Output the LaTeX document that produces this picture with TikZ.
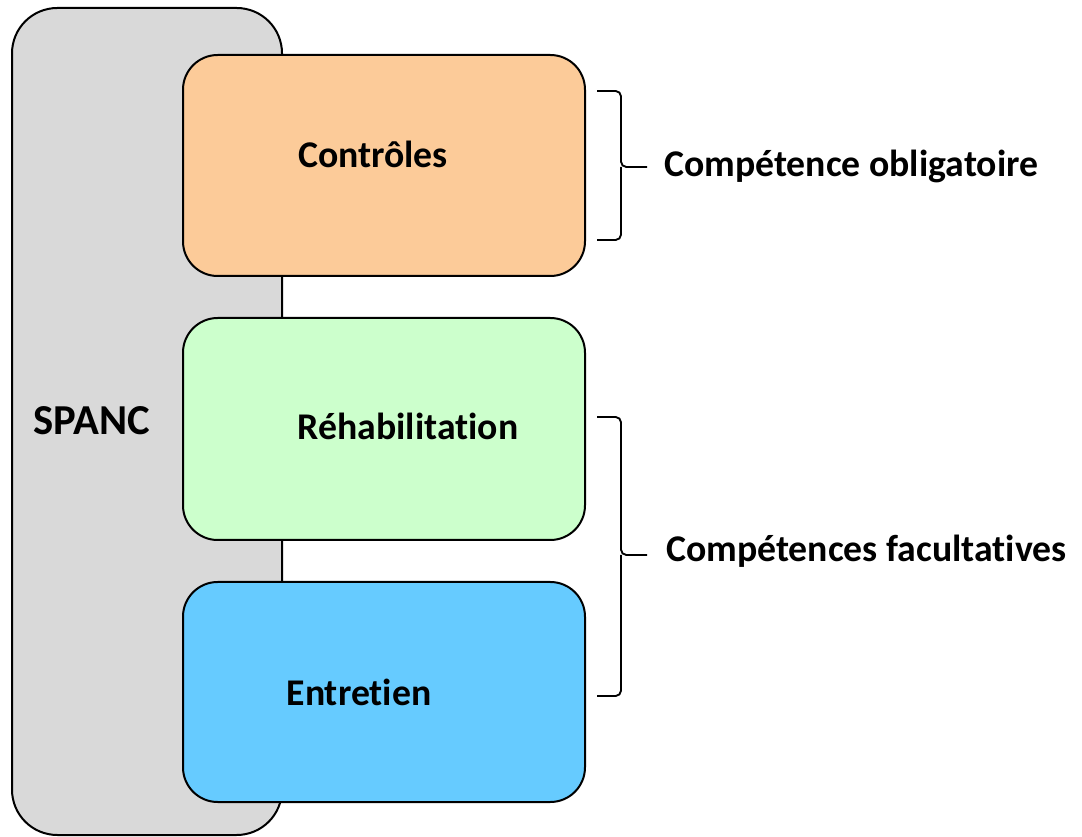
\documentclass[tikz,border=0pt]{standalone}
\usepackage{fontspec}
\setmainfont{Carlito}[Ligatures=NoCommon]
\definecolor{boxgray}{HTML}{D9D9D9}
\definecolor{boxorange}{HTML}{FCCB99}
\definecolor{boxgreen}{HTML}{CCFFCC}
\definecolor{boxblue}{HTML}{66CBFF}
\tikzset{
  box/.style={draw=black, line width=1.5pt, inner sep=0pt, outer sep=0pt, rounded corners=26pt},
  lbl/.style={font=\bfseries\fontsize{28.3}{30}\selectfont, text=black, inner sep=0pt},
  brace/.style={draw=black, line width=1.4pt, rounded corners=4pt}
}
\begin{document}
\begin{tikzpicture}[x=0.75pt,y=-0.75pt]
\useasboundingbox (0,0) rectangle (1082,837);
\node[box, fill=boxgray, rounded corners=34pt, minimum width=202.5pt, minimum height=620.25pt] (spanc) at (147,421.5) {};
\node[box, fill=boxorange, minimum width=301.5pt, minimum height=165.75pt] (ctrl) at (384,165.5) {};
\node[box, fill=boxgreen, minimum width=301.5pt, minimum height=166.5pt] (rehab) at (384,429) {};
\node[box, fill=boxblue, minimum width=301.5pt, minimum height=165pt] (entr) at (384,692) {};
\node[lbl, anchor=base, font=\bfseries\fontsize{32}{34}\selectfont] (tspanc) at (92,435) {SPANC};
\node[lbl, anchor=base] (tctrl) at (373,168) {Contrôles};
\node[lbl, anchor=base] (trehab) at (408,440) {Réhabilitation};
\node[lbl, anchor=base] (tentr) at (359,705) {Entretien};
% braces
\coordinate (b1t) at (597,91);
\coordinate (b1b) at (597,240);
\coordinate (b1m) at (621,167);
\coordinate (b1tip) at (647,167);
\coordinate (b2t) at (597,417);
\coordinate (b2b) at (597,696);
\coordinate (b2m) at (621,555);
\coordinate (b2tip) at (647,555);
\draw[brace] (b1t) -| (b1m) -- (b1tip);
\draw[brace] (b1b) -| (b1m);
\draw[brace] (b2t) -| (b2m) -- (b2tip);
\draw[brace] (b2b) -| (b2m);
\node[lbl, anchor=base west] (tobl) at (664,177) {Compétence obligatoire};
\node[lbl, anchor=base west] (tfac) at (666,562) {Compétences facultatives};
\end{tikzpicture}
\end{document}
